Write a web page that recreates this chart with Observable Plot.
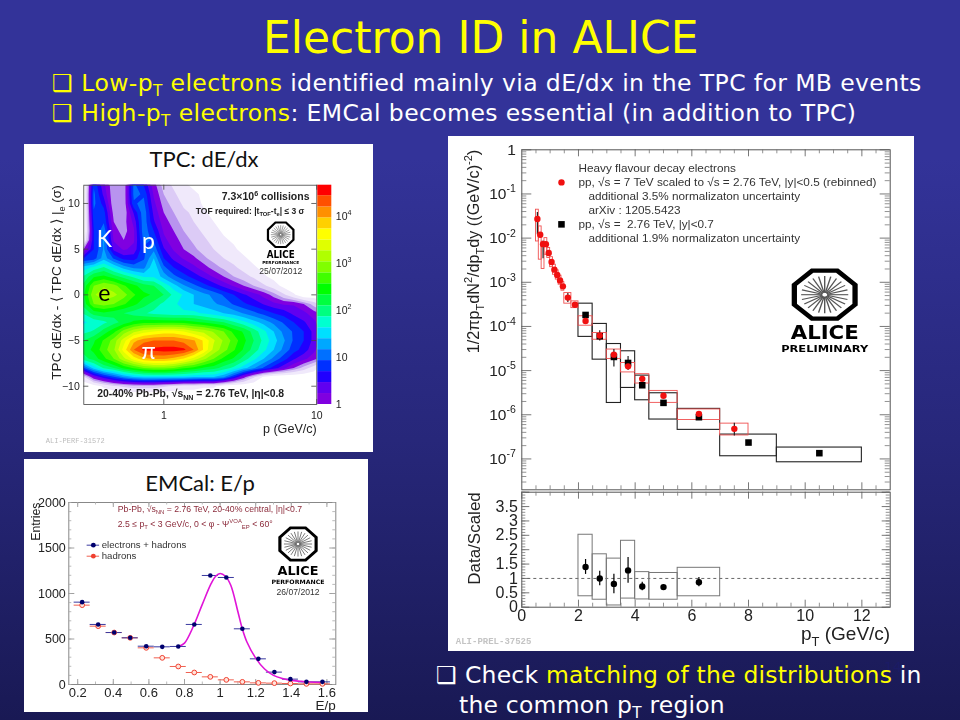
<!DOCTYPE html>
<html><head><meta charset="utf-8">
<script src="https://cdn.jsdelivr.net/npm/d3@7"></script>
<script src="https://cdn.jsdelivr.net/npm/@observablehq/plot@0.6"></script>
<style>
html,body{margin:0;padding:0}
body{width:960px;height:720px;position:relative;overflow:hidden;background:linear-gradient(#333399 0%,#333399 22%,#27277a 61%,#191954 100%);font-family:"DejaVu Sans",sans-serif}
.t{position:absolute;white-space:nowrap;color:#fff}
.body{font-size:23.5px;letter-spacing:.39px}
.y{color:#ffff00}
.t sub{font-size:65%;vertical-align:baseline;position:relative;top:.3em}
.panel{position:absolute;background:#fff}
.holder{position:absolute}
.holder svg{display:block;overflow:visible;filter:blur(.35px)}
.ptitle{position:absolute;font-family:Lato,sans-serif;font-size:22px;color:#111;white-space:nowrap;transform:translateX(-50%)}
</style></head><body>
<div class="t y" id="title" style="left:263px;top:12px;font-size:44px">Electron ID in ALICE</div>
<div class="t body" style="left:52px;top:69px"><span class="y">❑ Low-p<sub>T</sub> electrons</span> identified mainly via dE/dx in the TPC for MB events</div>
<div class="t body" style="left:52px;top:99px"><span class="y">❑ High-p<sub>T</sub> electrons</span>: EMCal becomes essential (in addition to TPC)</div>
<div class="panel" style="left:24px;top:144px;width:349px;height:308px"></div>
<div class="panel" style="left:24px;top:459px;width:344px;height:253px"></div>
<div class="panel" style="left:448px;top:136px;width:466px;height:515px"></div>
<div class="ptitle" style="left:204px;top:145px">TPC: dE/dx</div>
<div class="ptitle" style="left:200px;top:469px">EMCal: E/p</div>
<div class="t" style="left:884px;top:659px;font-size:14px;color:#1b1b66">14</div>
<div class="t body" style="left:436px;top:661px;letter-spacing:.2px"><span>❑ Check</span> <span class="y">matching of the distributions</span> in</div>
<div class="t body" style="left:459px;top:691px;letter-spacing:.2px">the common p<sub>T</sub> region</div>
<script>
// ---------- TPC dE/dx panel: log10(counts), rows y = 12 ... -12, columns uniform in log p
const tpcLevels=[0,.2335,.467,.7,.934,1.167,1.4,1.634,1.868,2.1,2.335,2.568,2.8,3.035,3.27,3.5,3.736,3.97,4.2,4.44];
const tpcColors=["#8000e0","#6000f0","#2000ff","#0030ff","#0070ff","#00a8ff","#00e0ff","#00ffd0","#00ff80","#00ff40","#00ff00","#40ff00","#80ff00","#b0ff00","#e0ff00","#ffff00","#ffd000","#ff9000","#ff5000","#ff0000"];
const tpcFringeLevels=[-.75,-.45,-.2];
const tpcFringeColors=["#f0e9fb","#dccbf6","#b893ef"];
const tpcRows=[
[-1,.9,.3,-.2,-.2,1.0,.7,.1,-.3,-.5,-.7,-.8,-.9],
[-1,1.0,.4,-.2,-.2,1.0,.9,.2,-.2,-.4,-.6,-.7,-.8,-.9],
[-1,1.0,.6,-.2,-.2,.9,1.0,.3,-.1,-.3,-.5,-.6,-.8,-.9],
[-1,.9,.8,-.1,-.2,.5,1.1,.4,0,-.2,-.4,-.5,-.7,-.85,-.95],
[-1,.8,.9,0,-.1,.3,1.1,.5,.1,-.1,-.3,-.45,-.6,-.75,-.85,-.95],
[-1,.7,1.1,.1,-.1,.2,1.1,.7,.2,0,-.2,-.35,-.5,-.65,-.8,-.9],
[-.8,.7,1.2,.2,0,.2,1.0,.9,.3,.1,-.1,-.25,-.4,-.55,-.7,-.8,-.95],
[0,.7,1.2,.4,.2,.3,.9,1.1,.5,.2,0,-.15,-.3,-.45,-.6,-.7,-.85,-.95],
[.7,.8,1.3,.9,.6,.6,.9,1.4,.7,.4,.2,.05,-.15,-.3,-.45,-.55,-.7,-.85,-.95],
[1.5,1.7,1.9,1.6,1.3,1.1,1.1,1.6,1.0,.7,.5,.3,.1,-.1,-.25,-.4,-.55,-.7,-.85,-.95],
[1.9,2.3,2.4,2.2,2.0,1.8,1.6,1.6,1.3,1.0,.8,.6,.4,.2,0,-.2,-.35,-.5,-.7,-.85,-.95],
[2.2,2.8,3.0,2.9,2.6,2.4,2.2,2.1,1.8,1.5,1.2,1.0,.8,.6,.4,.2,0,-.2,-.4,-.6,-.85],
[2.3,3.0,3.2,3.1,2.9,2.6,2.4,2.3,2.1,1.8,1.6,1.4,1.25,1.1,.9,.7,.5,.35,.15,-.1,-.4,-.7],
[2.2,2.8,2.9,2.8,2.6,2.4,2.2,2.0,1.8,1.7,1.5,1.4,1.3,1.2,1.1,.9,.75,.6,.45,.3,.2,.2,0,-.3,-.6],
[1.9,2.2,2.3,2.2,2.1,2.0,1.9,1.8,1.75,1.7,1.7,1.7,1.6,1.5,1.4,1.3,1.15,1.0,.85,.7,.6,.4,.3,.1,-.1],
[1.6,1.7,1.8,2.0,2.2,2.4,2.5,2.5,2.5,2.5,2.5,2.4,2.3,2.2,2.1,1.9,1.7,1.5,1.3,1.1,.9,.7,.5,.3,0],
[1.8,1.9,2.2,2.5,2.9,3.2,3.4,3.5,3.6,3.6,3.5,3.3,3.2,3.0,2.8,2.5,2.3,2.0,1.7,1.4,1.1,.9,.7,.4,.1],
[2.1,2.3,2.6,2.9,3.4,3.9,4.1,4.2,4.2,4.2,4.1,4.0,3.7,3.3,3.0,2.7,2.4,2.1,1.8,1.5,1.2,.9,.7,.4,.1],
[2.2,2.4,2.7,3.0,3.6,4.2,4.5,4.5,4.55,4.55,4.5,4.2,3.7,3.2,2.9,2.6,2.3,2.0,1.7,1.4,1.1,.8,.6,.3,0],
[2.0,2.2,2.5,2.8,3.2,3.6,3.9,4.0,4.0,3.9,3.7,3.4,3.1,2.8,2.5,2.3,2.0,1.7,1.4,1.1,.8,.5,.3,.1,-.2],
[.9,1.5,1.9,2.1,2.4,2.6,2.8,2.9,2.9,2.8,2.6,2.5,2.3,2.2,2.0,1.8,1.5,1.2,.9,.6,.3,0,-.3,-.6],
[-.5,.2,.6,.9,1.2,1.4,1.5,1.5,1.5,1.5,1.5,1.4,1.4,1.4,1.2,.7,.1,-.4,-.8],
[-1,-.9,-.7,-.5,-.4,-.3,-.3,-.3,-.4,-.5,-.6,-.6,-.7,-.7,-.9],
[],[]
];
const tpcLabels=[
 {p:.409,y:6.0,text:"K",fill:"#fff"},{p:.794,y:5.84,text:"p",fill:"#fff"},
 {p:.409,y:.1,text:"e",fill:"#000"},{p:.794,y:-6.2,text:"π",fill:"#fff"}];
const tpcNotesRight=[
 {p:8.96,y:10.74,text:"7.3×10^{6} collisions",size:10.5},
 {p:8.3,y:9.18,text:"TOF required: |t_{TOF}-t_{e}| ≤ 3 σ",size:8.5}];
const tpcNotesLeft=[
 {p:.367,y:-10.78,text:"20-40% Pb-Pb, √s_{NN} = 2.76 TeV, |η|<0.8",size:10.4}];
const tpcYTicks=[-10,-5,0,5,10];
const tpcXTicks=[1,10];

// ---------- EMCal E/p panel
const epX=[.225,.315,.405,.495,.585,.675,.765,.855,.945,1.035,1.125,1.215,1.305,1.395,1.485,1.575];
const epAll=[905,660,571,513,421,414,418,660,1198,1176,612,282,136,59,29,29];
const epHad=[872,641,571,513,403,293,198,132,84,51,29,18,15,11,7,7];
const epFitX=[.77,.80,.85,.90,.95,.975,1.0,1.03,1.06,1.10,1.125,1.15,1.2,1.25,1.3,1.35,1.4,1.45,1.5,1.57];
const epFitY=[420,455,640,880,1110,1190,1220,1190,1090,800,610,470,290,170,100,65,45,35,27,22];
const epNotes=[
 {x:.425,y:1930,text:"Pb-Pb, √s_{NN} = 2.76 TeV, 20-40% central, |η|<0.7",fill:"#8b2a3a",size:8.7},
 {x:.425,y:1766,text:"2.5 ≤ p_{T} < 3 GeV/c, 0 < φ - Ψ^{VOA}_{EP} < 60°",fill:"#8b2a3a",size:8.7},
 {x:.335,y:1531,text:"electrons + hadrons",fill:"#333",size:9.6},
 {x:.335,y:1410,text:"hadrons",fill:"#333",size:9.6}];
const epLegend=[{x:.288,y:1531,k:"all"},{x:.288,y:1410,k:"had"}];

// ---------- pp spectrum panel
const hfBinLo=[2,2.5,3,3.5,4,4.5,5.5,7,9];
const hfBinHi=[2.5,3,3.5,4,4.5,5.5,7,9,12];
const hfY=[1.82e-4,6e-5,2.04e-5,1.49e-5,4.66e-6,1.86e-6,8.8e-7,2.35e-7,1.35e-7];
const hfSysHi=[3.28e-4,1.14e-4,4e-5,2.74e-5,7.7e-6,3.07e-6,1.36e-6,3.56e-7,1.81e-7];
const hfSysLo=[5.8e-5,1.77e-5,1.85e-6,4.05e-6,2.13e-6,7.8e-7,4.55e-7,1.15e-7,8.4e-8];
const refX=[.55,.65,.75,.85,.95,1.05,1.15,1.25,1.35,1.45,1.625,1.875,2.25,2.75,3.25,3.75,4.25,5,6.25,7.5];
const refY=[2.7e-2,1.19e-2,7.3e-3,7.3e-3,4.6e-3,2.87e-3,1.93e-3,1.46e-3,1.1e-3,8.1e-4,4.5e-4,3.1e-4,1.33e-4,6.2e-5,2.3e-5,1.25e-5,6.5e-6,2.7e-6,1.05e-6,4.8e-7];
const refLo=[.5,.6,.7,.8,.9,1,1.1,1.2,1.3,1.4,1.5,1.75,2,2.5,3,3.5,4,4.5,5.5,7];
const refHi=[.6,.7,.8,.9,1,1.1,1.2,1.3,1.4,1.5,1.75,2,2.5,3,3.5,4,4.5,5.5,7,8];
const refSysHi=[4.4e-2,1.84e-2,8.3e-3,1e-2,5.96e-3,3.7e-3,2.5e-3,1.86e-3,1.41e-3,1.01e-3,5.7e-4,3.7e-4,1.7e-4,7.1e-5,3e-5,1.49e-5,8.3e-6,3.47e-6,1.32e-6,6.3e-7];
const refSysLo=[8.4e-3,3.25e-3,2e-3,4.2e-3,3.54e-3,2.2e-3,1.48e-3,1.15e-3,8.8e-4,6.45e-4,3.28e-4,2.6e-4,1.04e-4,5e-5,1.84e-5,9.1e-6,5.1e-6,1.86e-6,7.6e-7,3.4e-7];
const statBars=[
 {x:.55,lo:1.2e-2,hi:3.8e-2},{x:.75,lo:3.4e-3,hi:8.5e-3},{x:1.625,lo:3.5e-4,hi:5.6e-4},
 {x:2.75,lo:4.7e-5,hi:8e-5},{x:3.25,lo:1.2e-5,hi:3e-5},{x:3.75,lo:1e-5,hi:2.1e-5},{x:7.5,lo:3.3e-7,hi:6.4e-7}];
const legendNotes=[
 {x:2.0,y:.385,text:"Heavy flavour decay electrons"},
 {x:2.0,y:.185,text:"pp, √s = 7 TeV scaled to √s = 2.76 TeV, |y|<0.5 (rebinned)"},
 {x:2.35,y:.088,text:"additional 3.5% normalizaton uncertainty"},
 {x:2.35,y:.0424,text:"arXiv : 1205.5423"},
 {x:2.0,y:.0205,text:"pp, √s =  2.76 TeV, |y|<0.7"},
 {x:2.35,y:.00986,text:"additional 1.9% normalizaton uncertainty"}];
const yDecades=[1,.1,.01,.001,1e-4,1e-5,1e-6,1e-7];
const decadeLabels=["1","10^{-1}","10^{-2}","10^{-3}","10^{-4}","10^{-5}","10^{-6}","10^{-7}"];

// ---------- ratio panel
const ratX=[2.25,2.75,3.25,3.75,4.25,5,6.25];
const ratY=[1.40,1.0,.81,1.28,.72,.70,.87];
const ratErr=[.26,.25,.34,.45,.15,.07,.16];
const ratLo=[2,2.5,3,3.5,4,4.5,5.5];
const ratHi=[2.5,3,3.5,4,4.5,5.5,7];
const ratSysHi=[2.52,1.84,1.69,2.31,1.22,1.19,1.37];
const ratSysLo=[.38,.26,.06,.30,.27,.26,.38];

// ---------- helpers
function frameTicks(xs,ys,xLen,yLen,fw,fh,stroke="#333",extra={}){
  const o={stroke,strokeWidth:.8,...extra};
  const id=d=>d;
  return [
   Plot.tickX(xs,{x:id,insetTop:fh-xLen,...o}),
   Plot.tickX(xs,{x:id,insetBottom:fh-xLen,...o}),
   Plot.tickY(ys,{y:id,insetRight:fw-yLen,...o}),
   Plot.tickY(ys,{y:id,insetLeft:fw-yLen,...o})];
}
function place(svg,left,top){
  const d=document.createElement("div");d.className="holder";
  d.style.left=left+"px";d.style.top=top+"px";d.appendChild(svg);document.body.appendChild(d);
  richText(svg);
}
function richText(svg){
  svg.querySelectorAll("text").forEach(t=>{
    const s=t.textContent;
    if(!/[_^]\{/.test(s))return;
    const fs=parseFloat(getComputedStyle(t).fontSize)||10;
    t.textContent="";
    const re=/([_^])\{([^}]*)\}/g;let m,last=0,off=0;
    const add=(txt,size,target)=>{
      const ts=document.createElementNS("http://www.w3.org/2000/svg","tspan");
      ts.textContent=txt;ts.setAttribute("font-size",size);
      ts.setAttribute("dy",target-off);off=target;t.appendChild(ts);};
    while((m=re.exec(s))){
      if(m.index>last)add(s.slice(last,m.index),fs,0);
      add(m[2],fs*.68,m[1]==="_"?fs*.28:-fs*.42);
      last=m.index+m[0].length;
    }
    if(last<s.length)add(s.slice(last),fs,0);
  });
}
function addLogo(o){
  const svg=d3.select(document.body).append("svg").style("position","absolute").style("left",0).style("top",0)
    .attr("width",960).attr("height",720).style("pointer-events","none").style("filter","blur(.35px)");
  const g=svg.append("g").attr("transform",`translate(${o.cx},${o.cy}) scale(${o.w/2},${o.h/2})`);
  const oct=d3.range(8).map(i=>{const a=(i+.5)*Math.PI/4;return [Math.cos(a)*1.06,Math.sin(a)*1.06].join(",")}).join(" ");
  g.append("polygon").attr("points",oct).attr("fill","#fff").attr("stroke","#000").attr("stroke-width",.17);
  d3.range(24).forEach(i=>{const a=i*Math.PI/12;
    g.append("line").attr("x1",Math.cos(a)*.08).attr("y1",Math.sin(a)*.08).attr("x2",Math.cos(a)*.76).attr("y2",Math.sin(a)*.76)
     .attr("stroke","#555").attr("stroke-width",.045);});
  o.texts.forEach(t=>svg.append("text").attr("x",o.cx).attr("y",t.y).attr("text-anchor","middle")
    .attr("font-family",t.family||"'DejaVu Sans'").attr("font-weight",t.weight||"bold").attr("font-size",t.size)
    .attr("textLength",t.len).attr("lengthAdjust","spacingAndGlyphs").attr("fill",t.fill||"#000").text(t.s));
}
const baseStyle={fontFamily:"Liberation Sans",background:"transparent",overflow:"visible"};

// ---------- TPC heat map (x scale runs in log10 p so the grid stays uniform)
const lg=Math.log10;
const pad=r=>{const c=r.slice();while(c.length<25)c.push(-1);return c;};
const tpcFlat=tpcRows.map(pad).flat();
const allLevels=[...tpcFringeLevels,...tpcLevels];
const allColors=["#ffffff",...tpcFringeColors,...tpcColors];
const tpcPlot=Plot.plot({
  width:294,height:308,marginLeft:59.3,marginRight:1.7,marginTop:40.7,marginBottom:48,style:baseStyle,
  x:{domain:[lg(.3),1],axis:null},
  y:{domain:[-12,12],axis:null},
  color:{type:"threshold",domain:allLevels,range:allColors},
  marks:[
    Plot.contour(tpcFlat,{width:25,height:25,x1:-.5556,x2:1.078,y1:12.5,y2:-12.5,fill:Plot.identity,thresholds:allLevels,clip:true,stroke:"none"}),
    Plot.frame({stroke:"#444",strokeWidth:.8}),
    ...frameTicks(tpcXTicks.map(lg),tpcYTicks,5,5,233,219.3,"#444"),
    Plot.axisY(tpcYTicks,{anchor:"left",tickSize:0,tickPadding:4,fontSize:10.5,label:null,color:"#222"}),
    Plot.axisX(tpcXTicks.map(lg),{anchor:"bottom",tickSize:0,tickPadding:7,fontSize:10.5,label:null,color:"#222",tickFormat:d=>String(Math.round(10**d))}),
    Plot.text(["TPC dE/dx - ⟨ TPC dE/dx ⟩ |_{e} (σ)"],{frameAnchor:"top-left",textAnchor:"end",lineAnchor:"middle",rotate:-90,dx:-27,fontSize:13.6,fill:"#222"}),
    Plot.text(["p (GeV/c)"],{frameAnchor:"bottom-right",textAnchor:"end",lineAnchor:"middle",dy:24,fontSize:12.6,fill:"#222"}),
    Plot.text(["ALI-PERF-31572"],{frameAnchor:"bottom-left",textAnchor:"start",lineAnchor:"middle",dx:-38,dy:36,fontSize:7,fontFamily:"Liberation Mono",fill:"#bbb"}),
    Plot.text(tpcNotesRight,{x:d=>lg(d.p),y:"y",text:"text",fontSize:"size",textAnchor:"end",fontWeight:"bold",fill:"#222"}),
    Plot.text(tpcNotesLeft,{x:d=>lg(d.p),y:"y",text:"text",fontSize:"size",textAnchor:"start",fontWeight:"bold",fill:"#222"}),
    Plot.text(tpcLabels,{x:d=>lg(d.p),y:"y",text:"text",fill:"fill",fontSize:23,fontFamily:"Lato"})
  ]});
place(tpcPlot,24,144);
const barBands=tpcColors.map((c,i)=>({lo:Math.pow(10,tpcLevels[i]),hi:i<19?Math.pow(10,tpcLevels[i+1]):46000,c}));
const barPlot=Plot.plot({
  width:57,height:308,marginLeft:1.3,marginRight:41.7,marginTop:40.7,marginBottom:48,style:baseStyle,
  x:{domain:[0,1],axis:null},
  y:{type:"log",domain:[1,46000],axis:null},
  marks:[
    Plot.rect(barBands,{x1:0,x2:1,y1:"lo",y2:"hi",fill:"c"}),
    Plot.axisY([1,10,100,1000,10000],{anchor:"right",tickSize:0,tickPadding:4,fontSize:10.5,label:null,color:"#222",
      tickFormat:d=>d===1?"1":d===10?"10":`10^{${Math.round(lg(d))}}`})
  ]});
place(barPlot,316,144);
addLogo({cx:280.7,cy:234.7,w:26,h:25,texts:[
  {s:"ALICE",y:258,size:10,len:28},{s:"PERFORMANCE",y:263.5,size:4,len:37},
  {s:"25/07/2012",y:274,size:9.5,len:43,family:"Liberation Sans",weight:"normal",fill:"#333"}]});

// ---------- E/p
const epAllD=epX.map((x,i)=>({x,y:epAll[i]}));
const epHadD=epX.map((x,i)=>({x,y:epHad[i]}));
const epFit=epFitX.map((x,i)=>({x,y:epFitY[i]}));
const epPlot=Plot.plot({
  width:344,height:253,marginLeft:44.3,marginRight:32.7,marginTop:43,marginBottom:28,style:baseStyle,
  x:{domain:[.15,1.65],axis:null},y:{domain:[0,2000],axis:null},
  marks:[
    Plot.frame({stroke:"#888",strokeWidth:1}),
    ...frameTicks([.2,.4,.6,.8,1,1.2,1.4,1.6],[0,500,1000,1500,2000],5,6,267,182,"#888"),
    ...frameTicks(d3.range(.2,1.65,.1).map(d=>+d.toFixed(1)),d3.range(0,2001,100),2.5,3,267,182,"#aaa"),
    Plot.axisY([0,500,1000,1500,2000],{anchor:"left",tickSize:0,tickPadding:3,fontSize:12.5,label:null,color:"#222",tickFormat:d=>String(d)}),
    Plot.axisX([.2,.4,.6,.8,1,1.2,1.4,1.6],{anchor:"bottom",tickSize:0,tickPadding:3,fontSize:13,label:null,color:"#222",tickFormat:d=>String(d)}),
    Plot.text(["Entries"],{frameAnchor:"top-left",textAnchor:"end",lineAnchor:"middle",rotate:-90,dx:-33,fontSize:12.3,fill:"#222"}),
    Plot.text(["E/p"],{frameAnchor:"bottom-right",textAnchor:"end",lineAnchor:"middle",dy:21,fontSize:13.5,fill:"#222"}),
    Plot.ruleY(epHadD,{y:"y",x1:d=>d.x-.045,x2:d=>d.x+.045,stroke:"#f06050",strokeWidth:1}),
    Plot.ruleY(epAllD,{y:"y",x1:d=>d.x-.045,x2:d=>d.x+.045,stroke:"#3a3aa0",strokeWidth:1}),
    Plot.line(epFit,{x:"x",y:"y",stroke:"#e014d8",strokeWidth:1.6,curve:"catmull-rom"}),
    Plot.dot(epHadD,{x:"x",y:"y",r:2.4,fill:"#ffe4dc",stroke:"#f04030",strokeWidth:1}),
    Plot.dot(epAllD,{x:"x",y:"y",r:2.3,fill:"#00006e"}),
    Plot.ruleY(epLegend,{y:"y",x1:d=>d.x-.035,x2:d=>d.x+.035,stroke:d=>d.k==="all"?"#3a3aa0":"#f06050"}),
    Plot.dot(epLegend,{x:"x",y:"y",r:2.4,fill:d=>d.k==="all"?"#00006e":"#f04030"}),
    Plot.text(epNotes,{x:"x",y:"y",text:"text",fill:"fill",fontSize:"size",textAnchor:"start"})
  ]});
place(epPlot,24,459);
addLogo({cx:298,cy:544,w:37,h:33,texts:[
  {s:"ALICE",y:575,size:12,len:41},{s:"PERFORMANCE",y:583.5,size:6,len:53},
  {s:"26/07/2012",y:595,size:9.5,len:43,family:"Liberation Sans",weight:"normal",fill:"#333"}]});

// ---------- spectrum
const minorLog=d3.range(-8,0).flatMap(k=>d3.range(2,10).map(m=>m*Math.pow(10,k))).filter(v=>v>2e-8);
const hfBoxes=hfBinLo.map((lo,i)=>({lo,hi:hfBinHi[i],top:hfSysHi[i],bot:hfSysLo[i]}));
const refBoxes=refLo.map((lo,i)=>({lo,hi:refHi[i],top:refSysHi[i],bot:refSysLo[i]}));
const hfPts=hfBinLo.map((lo,i)=>({x:(lo+hfBinHi[i])/2,y:hfY[i]}));
const refPts=refX.map((x,i)=>({x,y:refY[i]}));
const fw=368.4;
const xHalf=d3.range(.5,13,.5).filter(d=>d%2);
const specPlot=Plot.plot({
  width:466,height:354,marginLeft:73.3,marginRight:24.3,marginTop:13.3,marginBottom:.7,style:baseStyle,
  x:{domain:[0,13],axis:null},y:{type:"log",domain:[2e-8,1],axis:null},
  marks:[
    Plot.frame({stroke:"#555",strokeWidth:1}),
    ...frameTicks([2,4,6,8,10,12],yDecades,7,10,fw,340,"#555"),
    ...frameTicks(xHalf,minorLog,4,5,fw,340,"#777"),
    Plot.axisY(yDecades,{anchor:"left",tickSize:0,tickPadding:6,fontSize:15.5,label:null,color:"#222",
      tickFormat:d=>decadeLabels[yDecades.indexOf(d)]}),
    Plot.text(["1/2πp_{T}dN^{2}/dp_{T}dy ((GeV/c)^{-2})"],{frameAnchor:"top-left",textAnchor:"end",lineAnchor:"middle",rotate:-90,dx:-48,fontSize:16.2,fill:"#222"}),
    Plot.rect(hfBoxes,{x1:"lo",x2:"hi",y1:"bot",y2:"top",fill:"none",stroke:"#222",strokeWidth:1.1}),
    Plot.rect(refBoxes,{x1:"lo",x2:"hi",y1:"bot",y2:"top",fill:"none",stroke:"#f05050",strokeWidth:.9}),
    Plot.ruleX(statBars,{x:"x",y1:"lo",y2:"hi",stroke:"#222",strokeWidth:1.2}),
    Plot.dot(hfPts,{x:"x",y:"y",symbol:"square",r:3.7,fill:"#000"}),
    Plot.dot(refPts,{x:"x",y:"y",r:3.2,fill:"#f01010"}),
    Plot.dot([{x:1.4,y:.1825}],{x:"x",y:"y",r:3.2,fill:"#f01010"}),
    Plot.dot([{x:1.4,y:.0205}],{x:"x",y:"y",symbol:"square",r:3.7,fill:"#000"}),
    Plot.text(legendNotes,{x:"x",y:"y",text:"text",textAnchor:"start",fontSize:11.75,fill:"#333"})
  ]});
place(specPlot,448,136);
addLogo({cx:824.7,cy:294.7,w:62,h:49,texts:[
  {s:"ALICE",y:339,size:20,len:68},{s:"PRELIMINARY",y:352,size:8.5,len:87}]});

// ---------- ratio
const ratPts=ratX.map((x,i)=>({x,y:ratY[i],e:ratErr[i]}));
const ratBoxes=ratLo.map((lo,i)=>({lo,hi:ratHi[i],top:ratSysHi[i],bot:ratSysLo[i]}));
const ratPlot=Plot.plot({
  width:466,height:161,marginLeft:73.3,marginRight:24.3,marginTop:1.7,marginBottom:44.3,style:baseStyle,
  x:{domain:[0,13],axis:null},y:{domain:[0,4],axis:null},
  marks:[
    Plot.frame({stroke:"#555",strokeWidth:1}),
    ...frameTicks([0,2,4,6,8,10,12],d3.range(0,4.01,.5),7,8,fw,115,"#555"),
    ...frameTicks(xHalf,d3.range(0,4.01,.1).map(d=>+d.toFixed(1)),4,4,fw,115,"#777"),
    Plot.axisY([0,.5,1,1.5,2,2.5,3,3.5],{anchor:"left",tickSize:0,tickPadding:4,fontSize:16,label:null,color:"#222",tickFormat:d=>String(d)}),
    Plot.axisX([0,2,4,6,8,10,12],{anchor:"bottom",tickSize:0,tickPadding:2,fontSize:16,label:null,color:"#222",tickFormat:d=>String(d)}),
    Plot.text(["Data/Scaled"],{frameAnchor:"top-left",textAnchor:"end",lineAnchor:"middle",rotate:-90,dx:-47,fontSize:17,fill:"#222"}),
    Plot.text(["p_{T} (GeV/c)"],{frameAnchor:"bottom-right",textAnchor:"end",lineAnchor:"middle",dy:27,fontSize:19,fill:"#222"}),
    Plot.text(["ALI-PREL-37525"],{frameAnchor:"bottom-left",textAnchor:"start",lineAnchor:"middle",dx:-66,dy:34,fontSize:9,fontFamily:"Liberation Mono",fontWeight:"bold",fill:"#c4c4c4"}),
    Plot.ruleY([1],{stroke:"#666",strokeDasharray:"3,3",strokeWidth:1}),
    Plot.rect(ratBoxes,{x1:"lo",x2:"hi",y1:"bot",y2:"top",fill:"none",stroke:"#777",strokeWidth:1}),
    Plot.ruleX(ratPts,{x:"x",y1:d=>d.y-d.e,y2:d=>d.y+d.e,stroke:"#000",strokeWidth:1.2}),
    Plot.dot(ratPts,{x:"x",y:"y",r:3.2,fill:"#000"})
  ]});
place(ratPlot,448,490);
</script>
</body></html>
